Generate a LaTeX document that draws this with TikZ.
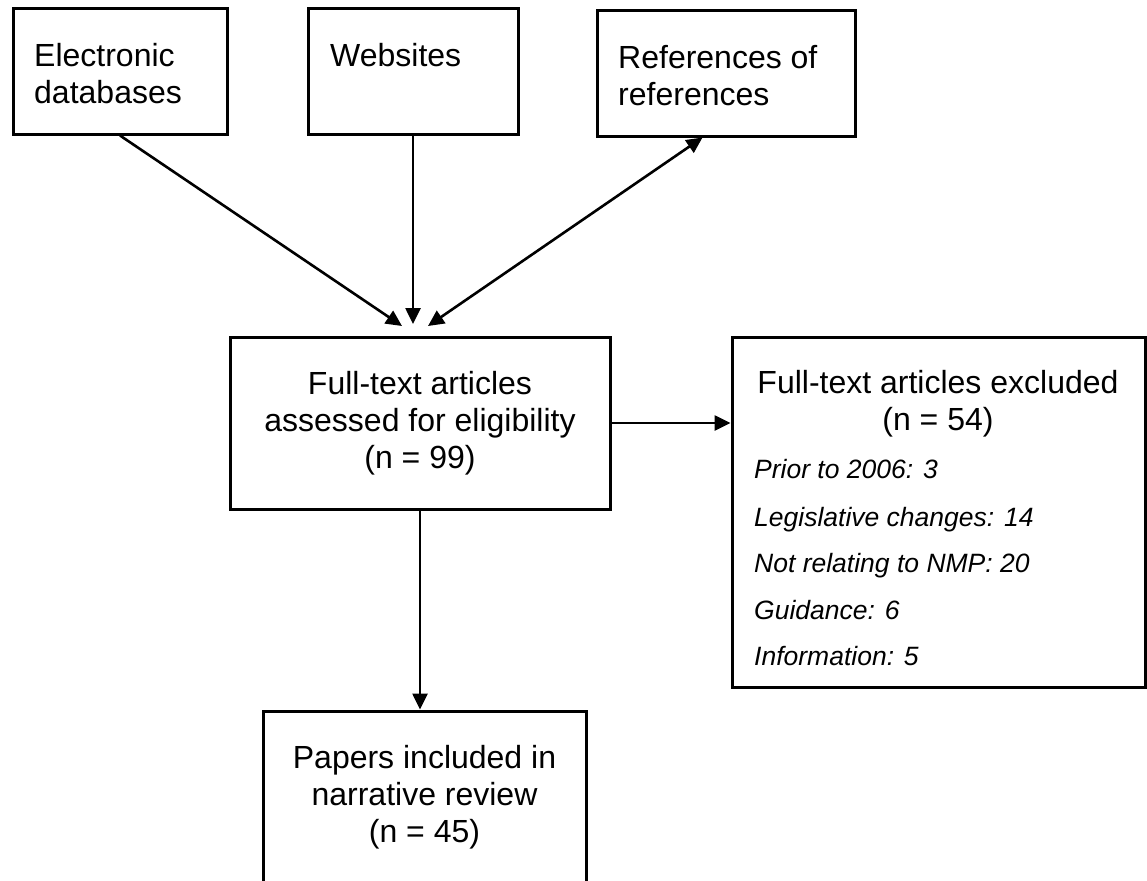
\documentclass[tikz,border=0pt]{standalone}
\usepackage{fontspec}
\setmainfont{Liberation Sans}
\usetikzlibrary{arrows.meta,calc}
\begin{document}
\begin{tikzpicture}[x=1pt,y=-1pt,
  box/.style={draw, line width=3pt, inner sep=0pt},
  conn/.style={line width=2.6pt, -{Triangle[length=16pt,width=15pt]}},
  conntwo/.style={line width=2.6pt, {Triangle[length=16pt,width=15pt]}-{Triangle[length=16pt,width=15pt]}},
  big/.style={font=\fontsize{32}{37}\selectfont, inner sep=0pt},
  item/.style={font=\fontsize{26.5}{30}\selectfont\itshape, inner sep=0pt, anchor=base west},
]
\useasboundingbox (0,0) rectangle (1147,880);
\clip (0,0) rectangle (1147,880);
\fill[white] (0,0) rectangle (1147,880);

% top boxes
\node[box, minimum width=214pt, minimum height=125pt] (e) at (120,71.5) {};
\node[big, anchor=base west] (e1) at (34,67) {Electronic};
\node[big, anchor=base west] (e2) at (34,104) {databases};

\node[box, minimum width=210pt, minimum height=125pt] (w) at (413,71.5) {};
\node[big, anchor=base west] (w1) at (330,67) {Websites};

\node[box, minimum width=258pt, minimum height=125pt] (r) at (726,73.5) {};
\node[big, anchor=base west] (r1) at (618,69) {References of};
\node[big, anchor=base west] (r2) at (618,106) {references};

% main box
\node[box, big, align=center, minimum width=380pt, minimum height=172pt] (main) at (420,423)
  {Full-text articles\\assessed for eligibility\\(n = 99)};

% excluded box
\node[box, minimum width=413pt, minimum height=350pt] (ex) at (938.5,512) {};
\node[big, anchor=base] (x1) at (938,393) {Full-text articles excluded};
\node[big, anchor=base] (x2) at (938,430) {(n = 54)};
\node[item] (i1) at (754,478) {Prior to 2006: 3};
\node[item] (i2) at (754,526) {Legislative changes: 14};
\node[item] (i3) at (754,572) {Not relating to NMP: 20};
\node[item] (i4) at (754,619) {Guidance: 6};
\node[item] (i5) at (754,665) {Information: 5};

% papers box
\node[box, big, align=center, minimum width=323pt, minimum height=173pt] (pap) at (424.5,797.5)
  {Papers included in\\narrative review\\(n = 45)};

% connectors
\coordinate (c1) at (402,326);
\coordinate (c2) at (413,324);
\coordinate (c3) at (428,326);
\coordinate (rb) at ($(r.south west)!0.41!(r.south east)$);
\draw[conn] (e.south) -- (c1);
\draw[conn] (w.south) -- (c2);
\draw[conntwo] (c3) -- (rb);
\draw[conn] (main.east) -- (main.east -| ex.west);
\draw[conn] (main.south) -- (main.south |- pap.north);
\end{tikzpicture}
\end{document}
